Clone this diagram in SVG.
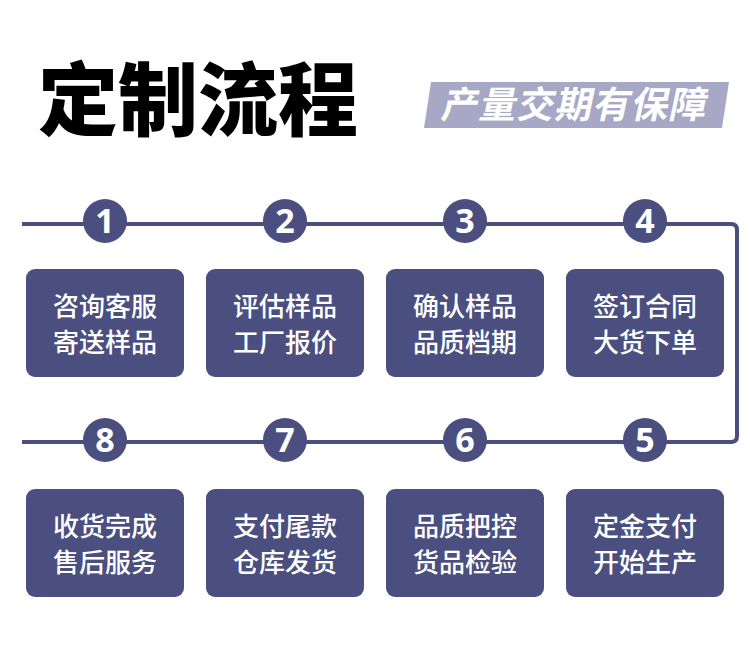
<svg xmlns="http://www.w3.org/2000/svg" width="750" height="654" viewBox="0 0 750 654">
<style>
.box{fill:#4b4f7f}
.bt{font-family:"Noto Sans CJK SC","Noto Sans",sans-serif;font-size:26px;fill:#fff;text-anchor:middle;font-weight:500}
.circ{fill:#4b4f7f}
.num{font-family:"Noto Sans","DejaVu Sans",sans-serif;font-size:34px;font-weight:700;fill:#fff;text-anchor:middle}
</style>
<rect width="750" height="654" fill="#fff"/>
<text x="38" y="129" font-family="Noto Sans CJK SC,sans-serif" font-size="80" font-weight="900" fill="#000">定制流程</text>
<g id="banner">
<polygon points="431,82 729,82 722,128 424,128" fill="#a6a8c6"/>
<text x="575" y="118" font-family="Noto Sans CJK SC,sans-serif" font-size="37" font-weight="700" fill="#fff" text-anchor="middle" transform="skewX(-12) translate(23,0)" style="letter-spacing:1px">产量交期有保障</text>
</g>
<g id="connectors">
<path d="M22,224 H731 Q737,224 737,230 V436 Q737,442 731,442 H22" fill="none" stroke="#4b4f7f" stroke-width="4"/>
</g>
<g id="n1"><circle class="circ" cx="105" cy="221" r="22"/><text class="num" x="105" y="233">1</text></g>
<g id="n2"><circle class="circ" cx="285" cy="221" r="22"/><text class="num" x="285" y="233">2</text></g>
<g id="n3"><circle class="circ" cx="465" cy="221" r="22"/><text class="num" x="465" y="233">3</text></g>
<g id="n4"><circle class="circ" cx="645" cy="221" r="22"/><text class="num" x="645" y="233">4</text></g>
<g id="n8"><circle class="circ" cx="105" cy="440" r="22"/><text class="num" x="105" y="452">8</text></g>
<g id="n7"><circle class="circ" cx="285" cy="440" r="22"/><text class="num" x="285" y="452">7</text></g>
<g id="n6"><circle class="circ" cx="465" cy="440" r="22"/><text class="num" x="465" y="452">6</text></g>
<g id="n5"><circle class="circ" cx="645" cy="440" r="22"/><text class="num" x="645" y="452">5</text></g>
<g id="b1"><rect class="box" x="26" y="269" width="158" height="108" rx="9"/><text class="bt" x="105" y="316">咨询客服</text><text class="bt" x="105" y="352">寄送样品</text></g>
<g id="b2"><rect class="box" x="206" y="269" width="158" height="108" rx="9"/><text class="bt" x="285" y="316">评估样品</text><text class="bt" x="285" y="352">工厂报价</text></g>
<g id="b3"><rect class="box" x="386" y="269" width="158" height="108" rx="9"/><text class="bt" x="465" y="316">确认样品</text><text class="bt" x="465" y="352">品质档期</text></g>
<g id="b4"><rect class="box" x="566" y="269" width="158" height="108" rx="9"/><text class="bt" x="645" y="316">签订合同</text><text class="bt" x="645" y="352">大货下单</text></g>
<g id="b8"><rect class="box" x="26" y="489" width="158" height="108" rx="9"/><text class="bt" x="105" y="536">收货完成</text><text class="bt" x="105" y="572">售后服务</text></g>
<g id="b7"><rect class="box" x="206" y="489" width="158" height="108" rx="9"/><text class="bt" x="285" y="536">支付尾款</text><text class="bt" x="285" y="572">仓库发货</text></g>
<g id="b6"><rect class="box" x="386" y="489" width="158" height="108" rx="9"/><text class="bt" x="465" y="536">品质把控</text><text class="bt" x="465" y="572">货品检验</text></g>
<g id="b5"><rect class="box" x="566" y="489" width="158" height="108" rx="9"/><text class="bt" x="645" y="536">定金支付</text><text class="bt" x="645" y="572">开始生产</text></g>
</svg>
